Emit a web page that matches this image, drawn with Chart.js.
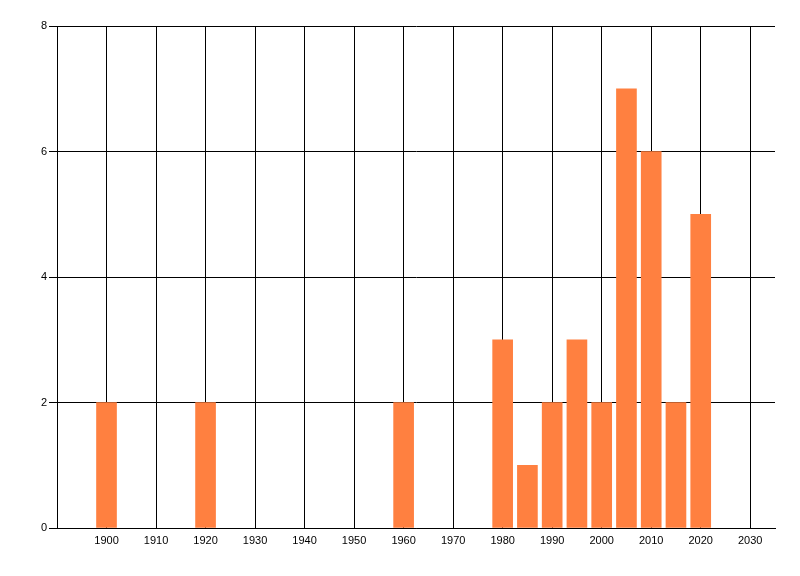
<!DOCTYPE html>
<html>
<head>
<meta charset="utf-8">
<script src="https://cdn.jsdelivr.net/npm/chart.js@4/dist/chart.umd.min.js"></script>
<style>
  html, body { margin: 0; padding: 0; background: #fff; }
  #wrap { width: 800px; height: 576px; }
</style>
</head>
<body>
<div id="wrap"><canvas id="c" width="800" height="576"></canvas></div>
<script>
const years = [1900, 1920, 1960, 1980, 1985, 1990, 1995, 2000, 2005, 2010, 2015, 2020];
const counts = [2, 2, 2, 3, 1, 2, 3, 2, 7, 6, 2, 5];
const xTickYears = [1900, 1910, 1920, 1930, 1940, 1950, 1960, 1970, 1980, 1990, 2000, 2010, 2020, 2030];
const yTicks = [0, 2, 4, 6, 8];

const font = { family: "'Liberation Sans', Arial, sans-serif", size: 11 };

new Chart(document.getElementById('c'), {
  type: 'bar',
  data: {
    datasets: [{
      data: years.map((y, i) => ({ x: y, y: counts[i] })),
      backgroundColor: 'rgb(255,128,64)',
      borderWidth: 0,
      barThickness: 20
    }]
  },
  options: {
    responsive: false,
    animation: false,
    devicePixelRatio: 1,
    layout: { padding: { top: 26, right: 25, left: 0, bottom: 0 } },
    plugins: { legend: { display: false }, tooltip: { enabled: false } },
    scales: {
      x: {
        type: 'linear',
        min: 1890,
        max: 2035,
        offset: false,
        afterBuildTicks: s => { s.ticks = xTickYears.map(v => ({ value: v })); },
        afterFit: s => { s.height = 48; },
        ticks: { color: '#000', font, padding: 6, maxRotation: 0, autoSkip: false, callback: v => String(v) },
        grid: { color: '#000', lineWidth: 1, drawTicks: false, offset: false, z: -1 },
        border: { color: '#000', width: 1 }
      },
      y: {
        min: 0,
        max: 8,
        afterBuildTicks: s => { s.ticks = yTicks.map(v => ({ value: v })); },
        afterFit: s => { s.width = 57; },
        ticks: { color: '#000', font, padding: 2 },
        grid: { color: '#000', lineWidth: 1, tickLength: 8, z: -1 },
        border: { color: '#000', width: 1 }
      }
    }
  }
});
</script>
</body>
</html>
